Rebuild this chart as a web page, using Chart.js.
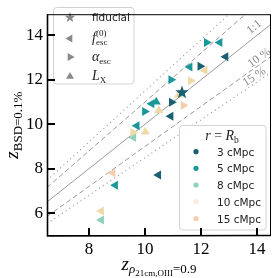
<!DOCTYPE html>
<html><head><meta charset="utf-8">
<script src="https://cdn.jsdelivr.net/npm/chart.js@4"></script>
<style>html,body{margin:0;padding:0;background:#fff;}#c{display:block;}</style>
</head><body>
<canvas id="c" width="278" height="278"></canvas>
<script>
// ---------------- data ----------------
const radii = ['3 cMpc', '5 cMpc', '8 cMpc', '10 cMpc', '15 cMpc'];
// x: z at rho_{21cm,OIII}=0.9 ; y: z at BSD = 0.1 %
const fidX   = [[11.32], [], [], [], []];
const fidY   = [[11.45], [], [], [], []];
const fescX  = [[10.48, 12.88, 10.92], [8.94, 12.67, 11.60, 10.24, 9.71], [8.44, 9.59], [8.44, 12.14], [8.85]];
const fescY  = [[7.71, 13.03, 10.36], [7.25, 13.68, 12.57, 10.92, 9.93], [5.69, 9.40], [6.09, 12.42], [7.82]];
const alphaX = [[11.97, 10.95], [12.20, 10.93, 9.99], [], [11.63, 9.57], [11.37]];
const alphaY = [[12.61, 10.99], [13.68, 12.00, 10.57], [], [11.96, 9.63], [10.84]];
const lxX    = [[], [10.40], [], [11.20, 10.49, 10.01], []];
const lxY    = [[], [11.00], [], [11.32, 10.62, 9.65], []];
const xTicks = [8, 10, 12, 14];
const yTicks = [6, 8, 10, 12, 14];
const refFactors = [1, 1.1, 0.9, 1.15, 0.85];
const refLabels = ['1:1', '10 %', '15 %'];
const refLabelFactors = [1, 0.9, 0.85];

// ---------------- styles ----------------
const X_MIN = 6.5, X_MAX = 14.5, Y_MIN = 4.97, Y_MAX = 14.95;
const pointColors  = ['#1b5f73', '#1a9899', '#8ed2b8', '#eedaa6', '#f4cdae'];
const legendColors = ['#1b5f73', '#17999a', '#8dd3bb', '#f7efdd', '#f3cfb0'];
const SERIF = '"Liberation Serif", "DejaVu Serif", serif';
const SANS = '"DejaVu Sans", sans-serif';
const LINE_GREY = '#9a9a9a';
const refStyles = [
  {dash: [], width: 1},
  {dash: [5, 3], width: 1},
  {dash: [5, 3], width: 1},
  {dash: [1, 3.5], width: 1.2},
  {dash: [1, 3.5], width: 1.2}
];

function starPath(ctx, x, y, R, r) {
  ctx.beginPath();
  for (let i = 0; i < 10; i++) {
    const a = -Math.PI / 2 + i * Math.PI / 5;
    const rr = i % 2 === 0 ? R : r;
    const px = x + Math.cos(a) * rr, py = y + Math.sin(a) * rr;
    if (i === 0) ctx.moveTo(px, py); else ctx.lineTo(px, py);
  }
  ctx.closePath();
}
function makeStar(color) {
  const c = document.createElement('canvas');
  c.width = 16; c.height = 16;
  const g = c.getContext('2d');
  g.fillStyle = color;
  starPath(g, 8, 8.5, 7, 2.9);
  g.fill();
  return c;
}
function triPath(ctx, x, y, r, rotDeg) {
  let rad = rotDeg * Math.PI / 180;
  ctx.beginPath();
  ctx.moveTo(x + Math.sin(rad) * r, y - Math.cos(rad) * r);
  rad += 2 * Math.PI / 3;
  ctx.lineTo(x + Math.sin(rad) * r, y - Math.cos(rad) * r);
  rad += 2 * Math.PI / 3;
  ctx.lineTo(x + Math.sin(rad) * r, y - Math.cos(rad) * r);
  ctx.closePath();
}

const datasets = [];
// reference lines (drawn at the back)
refFactors.forEach((f, i) => {
  datasets.push({
    data: [{x: X_MIN, y: X_MIN * f}, {x: X_MAX, y: X_MAX * f}],
    showLine: true, pointRadius: 0, borderColor: LINE_GREY,
    borderWidth: refStyles[i].width, borderDash: refStyles[i].dash,
    order: 20, fill: false
  });
});
const groups = [
  {xs: fescX, ys: fescY, style: 'triangle', rot: -90},
  {xs: alphaX, ys: alphaY, style: 'triangle', rot: 90},
  {xs: lxX, ys: lxY, style: 'triangle', rot: 0}
];
groups.forEach((g, gi) => {
  radii.forEach((r, ri) => {
    datasets.push({
      data: g.xs[ri].map((x, k) => ({x: x, y: g.ys[ri][k]})),
      pointStyle: g.style, pointRotation: g.rot, pointRadius: 5.2,
      backgroundColor: pointColors[ri], borderWidth: 0,
      order: 10 - ri
    });
  });
});
radii.forEach((r, ri) => {
  datasets.push({
    data: fidX[ri].map((x, k) => ({x: x, y: fidY[ri][k]})),
    pointStyle: makeStar(pointColors[ri]), pointRadius: 7,
    backgroundColor: pointColors[ri], borderWidth: 0, order: 0
  });
});

function drawRuns(ctx, runs, x, y, align) {
  let total = 0;
  runs.forEach(r => { ctx.font = r.font; r.w = ctx.measureText(r.t).width; if (!r.stack) total += r.w; });
  let cx = align === 'center' ? x - total / 2 : x;
  let prev = cx;
  runs.forEach(r => {
    ctx.font = r.font;
    if (r.stack) { ctx.fillText(r.t, prev, y + (r.dy || 0)); return; }
    prev = cx;
    ctx.fillText(r.t, cx, y + (r.dy || 0));
    cx += r.w;
  });
}
function roundBox(ctx, x0, y0, x1, y1, rad) {
  ctx.beginPath();
  ctx.moveTo(x0 + rad, y0);
  ctx.lineTo(x1 - rad, y0); ctx.quadraticCurveTo(x1, y0, x1, y0 + rad);
  ctx.lineTo(x1, y1 - rad); ctx.quadraticCurveTo(x1, y1, x1 - rad, y1);
  ctx.lineTo(x0 + rad, y1); ctx.quadraticCurveTo(x0, y1, x0, y1 - rad);
  ctx.lineTo(x0, y0 + rad); ctx.quadraticCurveTo(x0, y0, x0 + rad, y0);
  ctx.closePath();
  ctx.fillStyle = 'rgba(255,255,255,0.82)';
  ctx.fill();
  ctx.strokeStyle = '#d2d2d2'; ctx.lineWidth = 1;
  ctx.stroke();
}

const decor = {
  id: 'decor',
  afterDatasetsDraw(chart) {
    const ctx = chart.ctx, a = chart.chartArea;
    const xs = chart.scales.x, ys = chart.scales.y;
    ctx.save();
    // line labels
    const labX = [14.08, 14.2, 14.02];
    const labOff = [-5, -2.5, -2.5];
    ctx.fillStyle = '#888';
    ctx.font = '12px ' + SERIF;
    ctx.textAlign = 'center'; ctx.textBaseline = 'alphabetic';
    refLabels.forEach((t, i) => {
      const f = refLabelFactors[i], x0 = labX[i];
      const px = xs.getPixelForValue(x0), py = ys.getPixelForValue(x0 * f);
      const px2 = xs.getPixelForValue(x0 + 1), py2 = ys.getPixelForValue((x0 + 1) * f);
      const ang = Math.atan2(py2 - py, px2 - px);
      ctx.save();
      ctx.translate(px, py); ctx.rotate(ang);
      ctx.fillText(t, 0, labOff[i]);
      ctx.restore();
    });
    // legend 1 (parameters)
    roundBox(ctx, 53.5, 7.5, 134, 84, 3);
    ctx.fillStyle = '#8a8a8a';
    starPath(ctx, 70, 17.5, 5.5, 2.3); ctx.fill();
    triPath(ctx, 70, 38.5, 4.6, -90); ctx.fill();
    triPath(ctx, 70, 57, 4.6, 90); ctx.fill();
    triPath(ctx, 70, 76.5, 4.6, 0); ctx.fill();
    ctx.fillStyle = '#222';
    ctx.textAlign = 'left'; ctx.textBaseline = 'alphabetic';
    ctx.font = '10.5px ' + SANS;
    ctx.fillText('fiducial', 92, 21);
    drawRuns(ctx, [
      {t: 'f', font: 'italic 14px ' + SERIF},
      {t: 'esc', font: '9px ' + SERIF, dy: 3},
      {t: '(0)', font: '9px ' + SERIF, dy: -6, stack: true}
    ], 92, 42, 'left');
    drawRuns(ctx, [
      {t: 'α', font: 'italic 14px ' + SERIF},
      {t: 'esc', font: '9px ' + SERIF, dy: 3}
    ], 92, 61, 'left');
    drawRuns(ctx, [
      {t: 'L', font: 'italic 14px ' + SERIF},
      {t: 'X', font: '9px ' + SERIF, dy: 3}
    ], 92, 80, 'left');
    // legend 2 (radius)
    roundBox(ctx, 179.5, 125.5, 266, 230, 3);
    ctx.fillStyle = '#222';
    drawRuns(ctx, [
      {t: 'r', font: 'italic 14px ' + SERIF},
      {t: ' = ', font: '14px ' + SERIF},
      {t: 'R', font: 'italic 14px ' + SERIF},
      {t: 'b', font: '9.5px ' + SERIF, dy: 3}
    ], 222, 139.5, 'center');
    const rowY = [151.7, 168.3, 185, 201.7, 218.5];
    radii.forEach((r, i) => {
      ctx.fillStyle = legendColors[i];
      ctx.beginPath(); ctx.arc(196, rowY[i], 2.6, 0, Math.PI * 2); ctx.fill();
      ctx.fillStyle = '#222';
      ctx.font = '10.5px ' + SANS;
      ctx.fillText(r, 217, rowY[i] + 4);
    });
    // frame
    ctx.strokeStyle = '#000'; ctx.lineWidth = 1;
    ctx.strokeRect(a.left + 0.5, a.top + 0.5, a.right - a.left - 1, a.bottom - a.top - 1);
    ctx.lineWidth = 1.6;
    ctx.beginPath();
    ctx.moveTo(a.left + 0.5, a.top); ctx.lineTo(a.left + 0.5, a.bottom);
    ctx.lineTo(a.right, a.bottom - 0.5);
    ctx.stroke();
    // inward ticks
    ctx.lineWidth = 2;
    xTicks.forEach(v => {
      const p = Math.round(xs.getPixelForValue(v));
      ctx.beginPath(); ctx.moveTo(p, a.bottom); ctx.lineTo(p, a.bottom - 8); ctx.stroke();
    });
    yTicks.forEach(v => {
      const p = Math.round(ys.getPixelForValue(v));
      ctx.beginPath(); ctx.moveTo(a.left, p); ctx.lineTo(a.left + 8, p); ctx.stroke();
    });
    ctx.restore();
  },
  afterDraw(chart) {
    const ctx = chart.ctx, a = chart.chartArea;
    ctx.save();
    ctx.fillStyle = '#000';
    ctx.textAlign = 'left'; ctx.textBaseline = 'alphabetic';
    drawRuns(ctx, [
      {t: 'z', font: 'italic 19px ' + SERIF},
      {t: 'ρ', font: 'italic 13px ' + SERIF, dy: 3},
      {t: '21cm,OIII', font: '9px ' + SERIF, dy: 6},
      {t: '=0.9', font: '13px ' + SERIF, dy: 3}
    ], (a.left + a.right) / 2, 270, 'center');
    ctx.translate(18, (a.top + a.bottom) / 2);
    ctx.rotate(-Math.PI / 2);
    drawRuns(ctx, [
      {t: 'z', font: 'italic 19px ' + SERIF},
      {t: 'BSD=0.1%', font: '13px ' + SERIF, dy: 4}
    ], 0, 0, 'center');
    ctx.restore();
  }
};

new Chart(document.getElementById('c'), {
  type: 'scatter',
  data: {datasets: datasets},
  options: {
    responsive: false, animation: false, devicePixelRatio: 1,
    layout: {padding: {top: 4, right: 6, left: 0, bottom: 0}},
    plugins: {legend: {display: false}, tooltip: {enabled: false}},
    scales: {
      x: {
        type: 'linear', min: X_MIN, max: X_MAX,
        grid: {display: false, drawTicks: false}, border: {display: false},
        afterBuildTicks: s => { s.ticks = xTicks.map(v => ({value: v})); },
        afterFit: s => { s.height = 42; },
        ticks: {padding: 3, color: '#000', font: {family: SERIF, size: 17}}
      },
      y: {
        type: 'linear', min: Y_MIN, max: Y_MAX,
        grid: {display: false, drawTicks: false}, border: {display: false},
        afterBuildTicks: s => { s.ticks = yTicks.map(v => ({value: v})); },
        afterFit: s => { s.width = 47; },
        ticks: {padding: 4, color: '#000', font: {family: SERIF, size: 17}}
      }
    }
  },
  plugins: [decor]
});
</script>
</body></html>
